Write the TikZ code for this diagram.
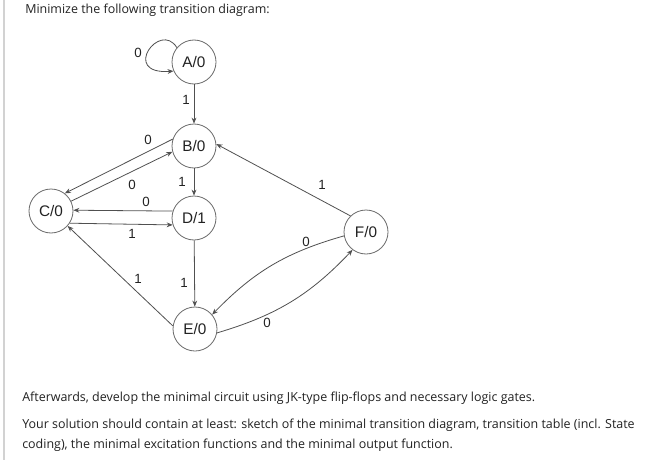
\documentclass[tikz,border=0pt]{standalone}
\usepackage{fontspec}
\setmainfont{Open Sans}
\newfontfamily\nodefont{Liberation Sans}
\usetikzlibrary{arrows.meta}
\definecolor{txt}{HTML}{222222}
\definecolor{edge}{HTML}{505050}
\definecolor{ring}{HTML}{6A6A6A}
\begin{document}
\begin{tikzpicture}[x=0.75pt,y=-0.75pt,
  state/.style={circle,draw=ring,line width=0.6pt,minimum size=33pt,inner sep=0pt,font=\nodefont\fontsize{11.5}{12}\selectfont,text=txt},
  tr/.style={draw=edge,line width=0.6pt,-{Stealth[length=4.5pt,width=3.6pt]}},
  lab/.style={font=\nodefont\fontsize{10}{12}\selectfont,text=txt,inner sep=0pt},
  para/.style={font=\fontsize{9.35}{12}\selectfont,text=txt,anchor=west,inner sep=0pt}]
\useasboundingbox (0,0) rectangle (656,460);
\fill[white] (0,0) rectangle (656,460);
\draw[draw={rgb,255:red,210;green,210;blue,210},line width=0.8pt] (4,0) -- (4,460);

\node[para] (title) at (25,10) {Minimize the following transition diagram:};

\node[state] (A) at (194,62) {A/0};
\node[state] (B) at (194,146) {B/0};
\node[state] (D) at (194,218) {D/1};
\node[state] (C) at (51,211) {C/0};
\node[state] (E) at (195,329) {E/0};
\node[state] (F) at (366,232) {F/0};

\draw[tr] (A.140) .. controls (160,20) and (120,75) .. (A.204);
\draw[tr] (A) -- (B);
\draw[tr] (B.162) -- (C.52);
\draw[tr] (C.26) -- (B.195);
\draw[tr] (D.162) -- (C.2);
\draw[tr] (C.-33) -- (D.198);
\draw[tr] (B) -- (D);
\draw[tr] (D) -- (E);
\draw[tr] (E.172) -- (C.-42);
\draw[tr] (F.134) -- (B.5);
\draw[tr] (F.190) to[bend right=15] (E.40);
\draw[tr] (E.-10) to[bend right=15] (F.233);

\node[lab] (l1) at (138,53) {0};
\node[lab] (l2) at (186,100) {1};
\node[lab] (l3) at (148,140) {0};
\node[lab] (l4) at (132,185) {0};
\node[lab] (l5) at (146,202) {0};
\node[lab] (l6) at (132,234) {1};
\node[lab] (l7) at (182,182) {1};
\node[lab] (l8) at (184,283) {1};
\node[lab] (l9) at (138,279) {1};
\node[lab] (l10) at (322,185) {1};
\node[lab] (l11) at (306,242) {0};
\node[lab] (l12) at (267,323) {0};

\node[para] (p1) at (22,398) {Afterwards, develop the minimal circuit using JK-type flip-flops and necessary logic gates.};
\node[para] (p2) at (22,425) {Your solution should contain at least: sketch of the minimal transition diagram, transition table (incl. State};
\node[para] (p3) at (22,445) {coding), the minimal excitation functions and the minimal output function.};
\end{tikzpicture}
\end{document}
